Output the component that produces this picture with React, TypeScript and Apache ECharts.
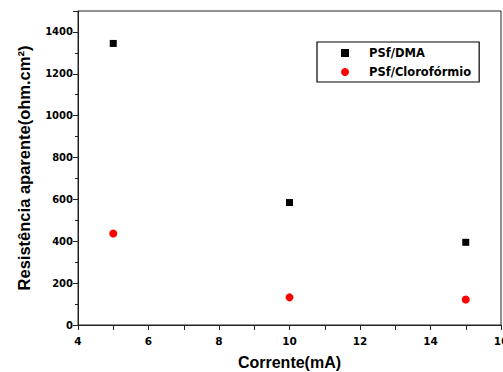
import React, { useEffect, useRef } from "react";
import * as echarts from "echarts";

const seriesNames = ["PSf/DMA", "PSf/Clorofórmio"];
const currentMA = [5, 10, 15];
const dmaValues = [1345, 585, 395];
const cloroValues = [437, 132, 122];

const xTitle = "Corrente(mA)";
const yTitle = "Resistência aparente(ohm.cm²)";

export default function App() {
  const ref = useRef<HTMLDivElement>(null);
  useEffect(() => {
    if (!ref.current) return;
    const chart = echarts.init(ref.current, null, { renderer: "svg" });
    const tickFont = {
      fontFamily: "DejaVu Sans",
      fontWeight: "bold" as const,
      fontSize: 10,
      color: "#000",
    };
    chart.setOption({
      animation: false,
      backgroundColor: "#fff",
      grid: {
        left: 78,
        top: 11,
        right: 2,
        bottom: 47,
        containLabel: false,
        outerBoundsMode: "none",
        show: true,
        borderColor: "#222",
        borderWidth: 1,
        backgroundColor: "transparent",
      },
      legend: {
        orient: "vertical",
        left: 317,
        top: 42,
        padding: [5, 8, 4, 24],
        itemGap: 7,
        itemWidth: 8,
        itemHeight: 8,
        borderColor: "#000",
        borderWidth: 1.2,
        backgroundColor: "#fff",
        textStyle: {
          fontFamily: "DejaVu Sans",
          fontWeight: "bold",
          fontSize: 11.5,
          color: "#000",
          padding: [0, 0, 0, 15],
        },
        data: seriesNames,
      },
      xAxis: {
        type: "value",
        min: 4,
        max: 16,
        interval: 2,
        name: xTitle,
        nameLocation: "middle",
        nameGap: 29,
        nameTextStyle: {
          fontFamily: "Liberation Sans",
          fontWeight: "bold",
          fontSize: 16,
          color: "#000",
        },
        axisLine: { show: true, lineStyle: { color: "#222", width: 1 } },
        axisTick: { show: true, inside: false, length: 5, lineStyle: { color: "#222" } },
        minorTick: { show: true, splitNumber: 2, length: 5, lineStyle: { color: "#222" } },
        splitLine: { show: false },
        minorSplitLine: { show: false },
        axisLabel: {
          ...tickFont,
          fontSize: 10.5,
          margin: 10,
          showMaxLabel: true,
          showMinLabel: true,
          hideOverlap: false,
          formatter: (v: number) => String(v),
        },
      },
      yAxis: {
        type: "value",
        min: 0,
        max: 1500,
        interval: 200,
        name: yTitle,
        nameLocation: "middle",
        nameGap: 46,
        nameRotate: 90,
        nameTextStyle: {
          fontFamily: "Liberation Sans",
          fontWeight: "bold",
          fontSize: 16.5,
          color: "#000",
        },
        axisLine: { show: true, lineStyle: { color: "#222", width: 1 } },
        axisTick: { show: true, inside: false, length: 5, lineStyle: { color: "#222" } },
        minorTick: { show: true, splitNumber: 2, length: 3, lineStyle: { color: "#222" } },
        splitLine: { show: false },
        minorSplitLine: { show: false },
        axisLabel: {
          ...tickFont,
          margin: 5,
          showMaxLabel: false,
          formatter: (v: number) => String(v),
        },
      },
      series: [
        {
          name: seriesNames[0],
          type: "scatter",
          symbol: "rect",
          symbolSize: 7,
          itemStyle: { color: "#000", opacity: 1 },
          data: currentMA.map((x, i) => [x, dmaValues[i]]),
        },
        {
          name: seriesNames[1],
          type: "scatter",
          symbol: "circle",
          symbolSize: 8,
          itemStyle: { color: "#ff0000", opacity: 1 },
          data: currentMA.map((x, i) => [x, cloroValues[i]]),
        },
      ],
    });
    return () => chart.dispose();
  }, []);
  return (
    <div
      ref={ref}
      style={{ position: "fixed", left: 0, top: 0, width: 503, height: 372 }}
    />
  );
}
